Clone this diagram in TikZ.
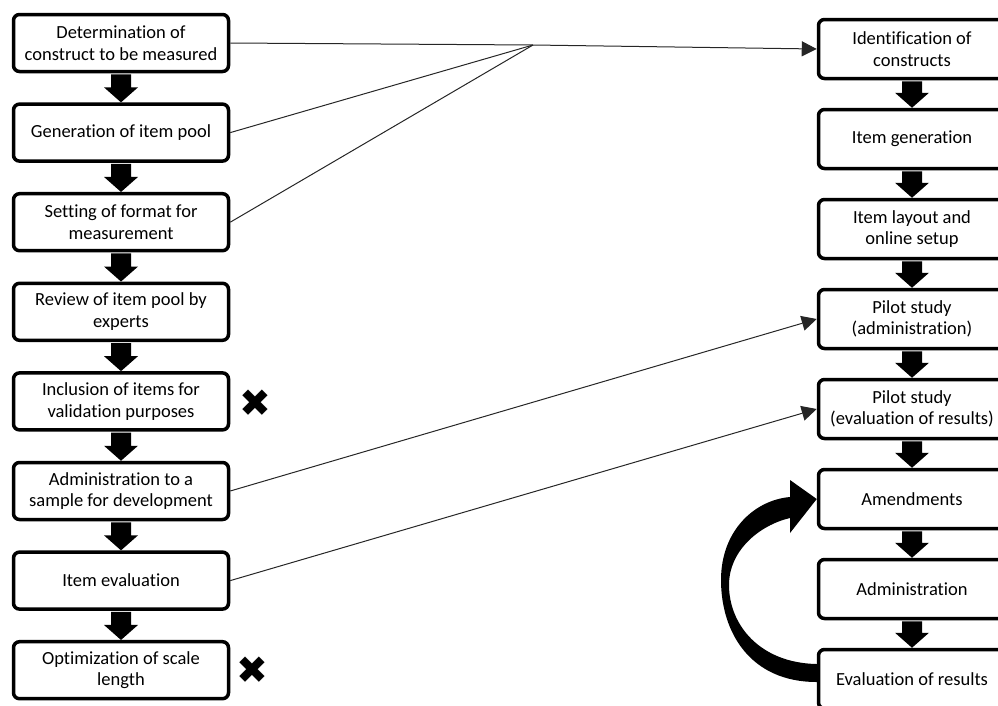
\documentclass[tikz,border=0pt]{standalone}
\usepackage{fontspec}
\setmainfont{Carlito}[Ligatures=NoCommon]
\newfontfamily\symfont{DejaVu Sans}
\usetikzlibrary{arrows.meta,calc}
\newcommand\blockarrow[2]{%
  \fill ($(#1.south)+(-10,1)$) -- ($(#1.south)+(10,1)$) -- ($(#2.north)+(10,-15)$) -- ($(#2.north)+(17,-15)$) -- (#2.north) -- ($(#2.north)+(-17,-15)$) -- ($(#2.north)+(-10,-15)$) -- cycle;}
\begin{document}
\begin{tikzpicture}[x=1pt,y=-1pt,
  box/.style={draw, line width=3.5pt, rounded corners=6pt, align=center,
    font=\fontsize{18.5}{21.5}\selectfont, inner sep=0pt, fill=white},
  lbox/.style={box, minimum width=215pt, minimum height=57pt},
  rbox/.style={box, minimum width=187pt, minimum height=59pt},
  link/.style={line width=1pt, draw=black!85},
  tip/.style={-{Triangle[length=15pt,width=15pt]}},
  xmark/.style={font=\symfont\fontsize{38}{38}\selectfont, inner sep=0pt}
]
\useasboundingbox (0,0) rectangle (998,705);
\clip (0,0) rectangle (998,705);

% left column
\node[lbox] (l1) at (121,43) {Determination of\\construct to be measured};
\node[lbox] (l2) at (121,132.6) {Generation of item pool};
\node[lbox] (l3) at (121,222.2) {Setting of format for\\measurement};
\node[lbox] (l4) at (121,311.8) {Review of item pool by\\experts};
\node[lbox] (l5) at (121,401.4) {Inclusion of items for\\validation purposes};
\node[lbox] (l6) at (121,491) {Administration to a\\sample for development};
\node[lbox] (l7) at (121,580.6) {Item evaluation};
\node[lbox] (l8) at (121,670.2) {Optimization of scale\\length};

% right column
\node[rbox] (r1) at (912,49) {Identification of\\constructs};
\node[rbox] (r2) at (912,139) {Item generation};
\node[rbox] (r3) at (912,229) {Item layout and\\online setup};
\node[rbox] (r4) at (912,319) {Pilot study\\(administration)};
\node[rbox] (r5) at (912,409) {Pilot study\\(evaluation of results)};
\node[rbox] (r6) at (912,499) {Amendments};
\node[rbox] (r7) at (912,589) {Administration};
\node[rbox] (r8) at (912,679) {Evaluation of results};

% crosses
\node[xmark] (x1) at (255,403) {✖};
\node[xmark] (x2) at (252,670) {✖};

% block arrows
\blockarrow{l1}{l2}
\blockarrow{l2}{l3}
\blockarrow{l3}{l4}
\blockarrow{l4}{l5}
\blockarrow{l5}{l6}
\blockarrow{l6}{l7}
\blockarrow{l7}{l8}
\blockarrow{r1}{r2}
\blockarrow{r2}{r3}
\blockarrow{r3}{r4}
\blockarrow{r4}{r5}
\blockarrow{r5}{r6}
\blockarrow{r6}{r7}
\blockarrow{r7}{r8}

% thin links
\coordinate (J) at (533,45);
\draw[link] (l2.east) -- (J);
\draw[link] (l3.east) -- (J);
\draw[link,tip] (l1.east) -- (J) -- (r1.west);
\draw[link,tip] (l6.east) -- (r4.west);
\draw[link,tip] (l7.east) -- (r5.west);

% curved loop arrow
\fill (r8.west |- 0,682) .. controls (750,682) and (721,632) .. (721,580)
  .. controls (721,530) and (755,500) .. (790,497)
  -- (790,480) -- (r6.west) -- (790,533) -- (790,518)
  .. controls (760,525) and (729,550) .. (729,585)
  .. controls (729,625) and (760,663) .. (r8.west |- 0,664) -- cycle;
\end{tikzpicture}
\end{document}
